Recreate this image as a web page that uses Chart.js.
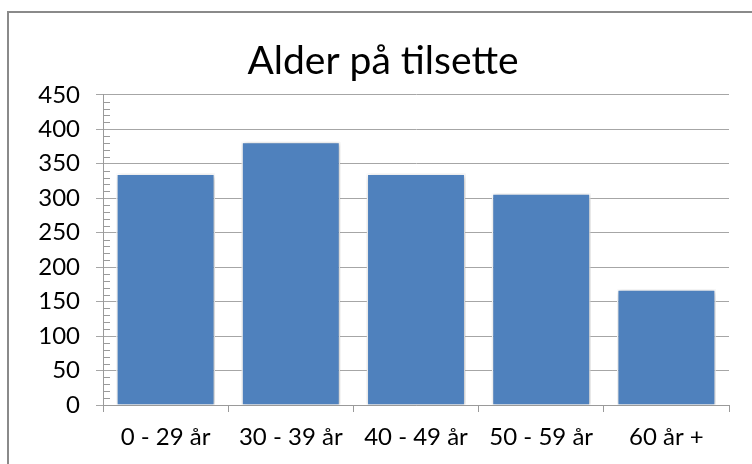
<!DOCTYPE html>
<html>
<head>
<meta charset="utf-8">
<script src="https://cdn.jsdelivr.net/npm/chart.js@4/dist/chart.umd.min.js"></script>
<style>
  html, body { margin: 0; padding: 0; background: #fff; }
  #wrap { position: relative; width: 752px; height: 464px; }
</style>
</head>
<body>
<div id="wrap"><canvas id="c" width="752" height="464"></canvas></div>
<script>
const categories = ["0 - 29 år", "30 - 39 år", "40 - 49 år", "50 - 59 år", "60 år +"];
const values = [336, 382, 336, 307, 168];
const yTicks = [0, 50, 100, 150, 200, 250, 300, 350, 400, 450];
const titleText = "Alder på tilsette";

const FONT = "Lato, 'Open Sans', sans-serif";

const framePlugin = {
  id: 'frame',
  beforeDraw(chart) {
    const ctx = chart.ctx;
    ctx.save();
    ctx.fillStyle = '#fff';
    ctx.fillRect(0, 0, chart.width, chart.height);
    ctx.strokeStyle = '#8a8a8a';
    ctx.lineWidth = 2;
    ctx.beginPath();
    ctx.moveTo(8, chart.height + 5);
    ctx.lineTo(8, 12);
    ctx.lineTo(chart.width + 5, 12);
    ctx.stroke();
    ctx.restore();
  }
};

const shadowPlugin = {
  id: 'barShadow',
  beforeDatasetsDraw(chart) {
    const ctx = chart.ctx;
    ctx.save();
    ctx.shadowColor = 'rgba(0,0,0,0.30)';
    ctx.shadowBlur = 5;
    ctx.shadowOffsetX = 1;
    ctx.shadowOffsetY = 1;
  },
  afterDatasetsDraw(chart) {
    chart.ctx.restore();
  }
};

const minorTickPlugin = {
  id: 'minorTicks',
  afterDraw(chart) {
    const y = chart.scales.y;
    const ctx = chart.ctx;
    ctx.save();
    ctx.strokeStyle = '#9a9a9a';
    ctx.lineWidth = 1;
    const x0 = y.right;
    for (let v = y.min; v <= y.max; v += 10) {
      if (v % 50 === 0) continue;
      const py = Math.round(y.getPixelForValue(v)) + 0.5;
      ctx.beginPath();
      ctx.moveTo(x0, py);
      ctx.lineTo(x0 + 7, py);
      ctx.stroke();
    }
    ctx.restore();
  }
};

new Chart(document.getElementById('c'), {
  type: 'bar',
  data: {
    labels: categories,
    datasets: [{
      data: values,
      backgroundColor: '#4F81BD',
      borderColor: '#ffffff',
      borderWidth: 1.5,
      categoryPercentage: 1.0,
      barPercentage: 0.79
    }]
  },
  options: {
    responsive: false,
    animation: false,
    events: [],
    layout: { padding: { left: 37, right: 23, top: 0, bottom: 0 } },
    plugins: {
      legend: { display: false },
      tooltip: { enabled: false },
      title: {
        display: true,
        text: titleText,
        color: '#000',
        font: { family: FONT, size: 39, weight: 'normal', lineHeight: 1.2 },
        padding: { top: 38, bottom: 10 }
      }
    },
    scales: {
      x: {
        grid: {
          offset: true,
          drawOnChartArea: false,
          drawTicks: true,
          tickLength: 7,
          color: '#9a9a9a'
        },
        border: { display: true, color: '#9a9a9a', width: 1 },
        ticks: {
          color: '#000',
          font: { family: FONT, size: 24 },
          padding: 11,
          maxRotation: 0
        },
        afterFit(scale) { scale.height = 59; }
      },
      y: {
        min: 0,
        max: 450,
        afterBuildTicks(scale) { scale.ticks = yTicks.map(v => ({ value: v })); },
        grid: {
          color: '#a6a6a6',
          drawTicks: true,
          tickLength: 7
        },
        border: { display: true, color: '#9a9a9a', width: 1 },
        ticks: {
          color: '#000',
          font: { family: FONT, size: 24 },
          padding: 16
        },
        afterFit(scale) { scale.width = 66; }
      }
    }
  },
  plugins: [framePlugin, shadowPlugin, minorTickPlugin]
});
</script>
</body>
</html>
